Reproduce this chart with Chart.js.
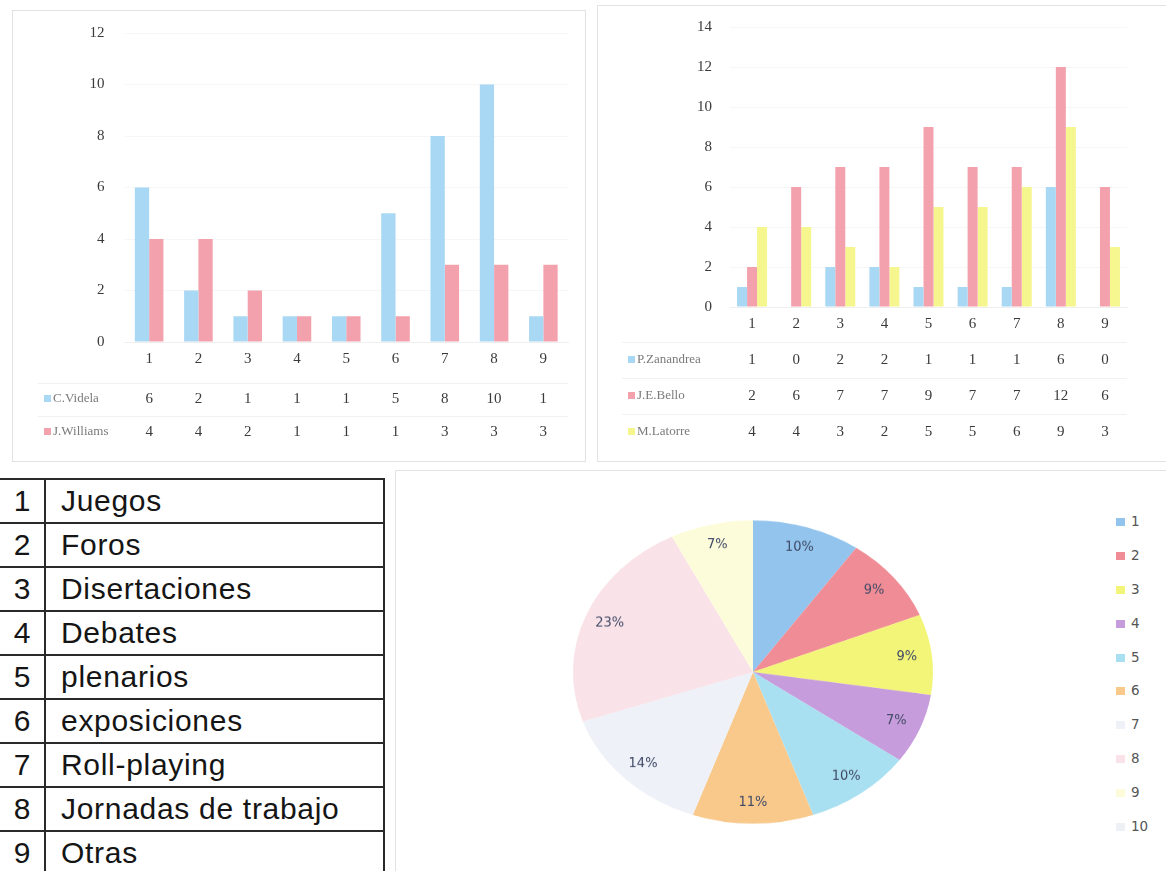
<!DOCTYPE html>
<html>
<head>
<meta charset="utf-8">
<script src="https://cdn.jsdelivr.net/npm/chart.js@4"></script>
<style>
  html, body { margin:0; padding:0; background:#fff; }
  body { width:1166px; height:871px; position:relative; overflow:hidden; }
  canvas { position:absolute; }
  .frame { position:absolute; border:1px solid #e2e2e2; box-sizing:border-box; }
  #legTable { position:absolute; left:-2px; top:478px; border-collapse:collapse;
    font-family:"Liberation Sans", Arial, sans-serif; font-size:30px; color:#151515; }
  #legTable td { border:2px solid #2a2a2a; height:42px; padding:0; line-height:42px; }
  #legTable td.n { width:44px; text-align:center; }
  #legTable td.t { width:322px; padding-left:15px; letter-spacing:0.7px; }
  #pieLegend { position:absolute; left:1116px; top:511px; font-family:"DejaVu Sans", Verdana, sans-serif;
    font-size:13.5px; color:#555; }
  #pieLegend div { height:33.9px; line-height:20px; white-space:nowrap; }
  #pieLegend span.k { display:inline-block; width:9px; height:8px; margin-right:6px; }
</style>
</head>
<body>
<div class="frame" style="left:12px;top:10px;width:574px;height:452px;"></div>
<div class="frame" style="left:597px;top:5px;width:575px;height:457px;"></div>
<div class="frame" style="left:395px;top:470px;width:780px;height:410px;"></div>
<canvas id="c1" width="590" height="465" style="left:0;top:0;"></canvas>
<canvas id="c2" width="574" height="465" style="left:592px;top:0;"></canvas>
<canvas id="c3" width="400" height="400" style="left:553px;top:471.5px;transform:scaleY(0.842);transform-origin:50% 50%;"></canvas>
<table id="legTable"></table>
<div id="pieLegend"></div>
<script>
// ---------- DATA ----------
const categories = ['1','2','3','4','5','6','7','8','9'];
const videla    = [6, 2, 1, 1, 1, 5, 8, 10, 1];
const williams  = [4, 4, 2, 1, 1, 1, 3, 3, 3];
const zanandrea = [1, 0, 2, 2, 1, 1, 1, 6, 0];
const bello     = [2, 6, 7, 7, 9, 7, 7, 12, 6];
const latorre   = [4, 4, 3, 2, 5, 5, 6, 9, 3];
const seriesNames1 = ['C.Videla', 'J.Williams'];
const seriesNames2 = ['P.Zanandrea', 'J.E.Bello', 'M.Latorre'];
const activities = ['Juegos','Foros','Disertaciones','Debates','plenarios','exposiciones','Roll-playing','Jornadas de trabajo','Otras'];
const pieLabels = ['1','2','3','4','5','6','7','8','9','10'];
const pieValues = [17, 16, 15, 13, 17, 19, 25, 40, 13, 0];
const yMax1 = 12, yMax2 = 14, yStep = 2;

// ---------- STYLES ----------
const BLUE = '#a8d8f3', PINK = '#f3a2ad', YELLOW = '#f5f78e';
const pieColors = ['#92c4ee','#f08c96','#f3f578','#c79cdc','#a9e0f1','#f9c98c','#eef1f7','#f9e2e8','#fcfcda','#edf0f5'];
const SERIF = '"Liberation Serif", "DejaVu Serif", serif';
Chart.defaults.font.family = SERIF;

// data table drawn under the x axis, aligned with the category scale
function dataTablePlugin(firstOffset, rowGap, keyX, textX, legendFont) {
  return {
    id: 'dataTable',
    afterDraw(chart) {
      const ctx = chart.ctx, xs = chart.scales.x, area = chart.chartArea;
      ctx.save();
      ctx.strokeStyle = '#f1f1f1'; ctx.lineWidth = 1;
      chart.data.datasets.forEach((ds, r) => {
        const y = area.bottom + firstOffset + r * rowGap;
        ctx.beginPath(); ctx.moveTo(keyX - 6, Math.round(y - rowGap / 2) + 0.5);
        ctx.lineTo(area.right, Math.round(y - rowGap / 2) + 0.5); ctx.stroke();
      });
      chart.data.datasets.forEach((ds, r) => {
        const y = area.bottom + firstOffset + r * rowGap;
        ctx.fillStyle = ds.backgroundColor;
        ctx.fillRect(keyX, y - 4, 7, 7);
        ctx.fillStyle = '#7a7a7a';
        ctx.font = legendFont;
        ctx.textAlign = 'left'; ctx.textBaseline = 'middle';
        ctx.fillText(ds.label, textX, y);
        ctx.fillStyle = '#3a3a3a';
        ctx.font = '15px ' + SERIF;
        ctx.textAlign = 'center';
        ds.data.forEach((v, i) => ctx.fillText(String(v), xs.getPixelForValue(i), y));
      });
      ctx.restore();
    }
  };
}

function barOptions(yMax, leftW, xH, padTop, padRight, tickPad) {
  return {
    responsive: false, animation: false, devicePixelRatio: 1,
    layout: { padding: { top: padTop, right: padRight, bottom: 0, left: 0 } },
    plugins: { legend: { display: false }, tooltip: { enabled: false } },
    scales: {
      x: {
        grid: { display: false, drawTicks: false },
        border: { display: true, color: '#efefef' },
        ticks: { color: '#3a3a3a', font: { size: 15 }, padding: 8 },
        afterFit(s) { s.height = xH; }
      },
      y: {
        min: 0, max: yMax,
        grid: { color: '#f6f6f6', drawTicks: false },
        border: { display: false },
        ticks: { stepSize: yStep, color: '#3a3a3a', font: { size: 15 }, padding: tickPad },
        afterFit(s) { s.width = leftW; }
      }
    }
  };
}

// ---------- CHART 1 ----------
new Chart(document.getElementById('c1'), {
  type: 'bar',
  data: {
    labels: categories,
    datasets: [
      { label: seriesNames1[0], data: videla, backgroundColor: BLUE, categoryPercentage: 0.58, barPercentage: 1 },
      { label: seriesNames1[1], data: williams, backgroundColor: PINK, categoryPercentage: 0.58, barPercentage: 1 }
    ]
  },
  options: barOptions(yMax1, 124.5, 123, 33, 22, 20),
  plugins: [dataTablePlugin(57, 33, 44, 53, '13px ' + SERIF)]
});

// ---------- CHART 2 ----------
new Chart(document.getElementById('c2'), {
  type: 'bar',
  data: {
    labels: categories,
    datasets: [
      { label: seriesNames2[0], data: zanandrea, backgroundColor: BLUE, categoryPercentage: 0.68, barPercentage: 1 },
      { label: seriesNames2[1], data: bello, backgroundColor: PINK, categoryPercentage: 0.68, barPercentage: 1 },
      { label: seriesNames2[2], data: latorre, backgroundColor: YELLOW, categoryPercentage: 0.68, barPercentage: 1 }
    ]
  },
  options: barOptions(yMax2, 138, 158, 27, 39, 18),
  plugins: [dataTablePlugin(53, 36, 36, 45, '13px ' + SERIF)]
});

// ---------- PIE ----------
const SQUASH = 0.842;
const pieLabelPlugin = {
  id: 'pieLabels',
  afterDraw(chart) {
    const ctx = chart.ctx;
    const data = chart.data.datasets[0].data;
    const total = data.reduce((a, b) => a + b, 0);
    const meta = chart.getDatasetMeta(0);
    ctx.save();
    ctx.font = '13px "DejaVu Sans", Verdana, sans-serif';
    ctx.textAlign = 'center'; ctx.textBaseline = 'middle';
    ctx.fillStyle = '#404a66';
    meta.data.forEach((arc, i) => {
      if (!data[i]) return;
      const p = arc.getProps(['x','y','startAngle','endAngle','outerRadius'], true);
      const a = (p.startAngle + p.endAngle) / 2;
      const r = p.outerRadius * 0.86;
      const x = p.x + Math.cos(a) * r, y = p.y + Math.sin(a) * r;
      ctx.save();
      ctx.translate(x, y); ctx.scale(1, 1 / SQUASH);
      ctx.fillText(Math.round(data[i] / total * 100) + '%', 0, 0);
      ctx.restore();
    });
    ctx.restore();
  }
};
new Chart(document.getElementById('c3'), {
  type: 'pie',
  data: { labels: pieLabels, datasets: [{ data: pieValues, backgroundColor: pieColors, borderWidth: 0 }] },
  options: {
    responsive: false, animation: false, devicePixelRatio: 1,
    layout: { padding: 20 },
    plugins: { legend: { display: false }, tooltip: { enabled: false } }
  },
  plugins: [pieLabelPlugin]
});

// ---------- HTML table + pie legend ----------
const tbl = document.getElementById('legTable');
activities.forEach((a, i) => {
  const tr = document.createElement('tr');
  tr.innerHTML = '<td class="n">' + categories[i] + '</td><td class="t">' + a + '</td>';
  tbl.appendChild(tr);
});
const leg = document.getElementById('pieLegend');
pieLabels.forEach((l, i) => {
  const d = document.createElement('div');
  d.innerHTML = '<span class="k" style="background:' + pieColors[i] + '"></span>' + l;
  leg.appendChild(d);
});
</script>
</body>
</html>
